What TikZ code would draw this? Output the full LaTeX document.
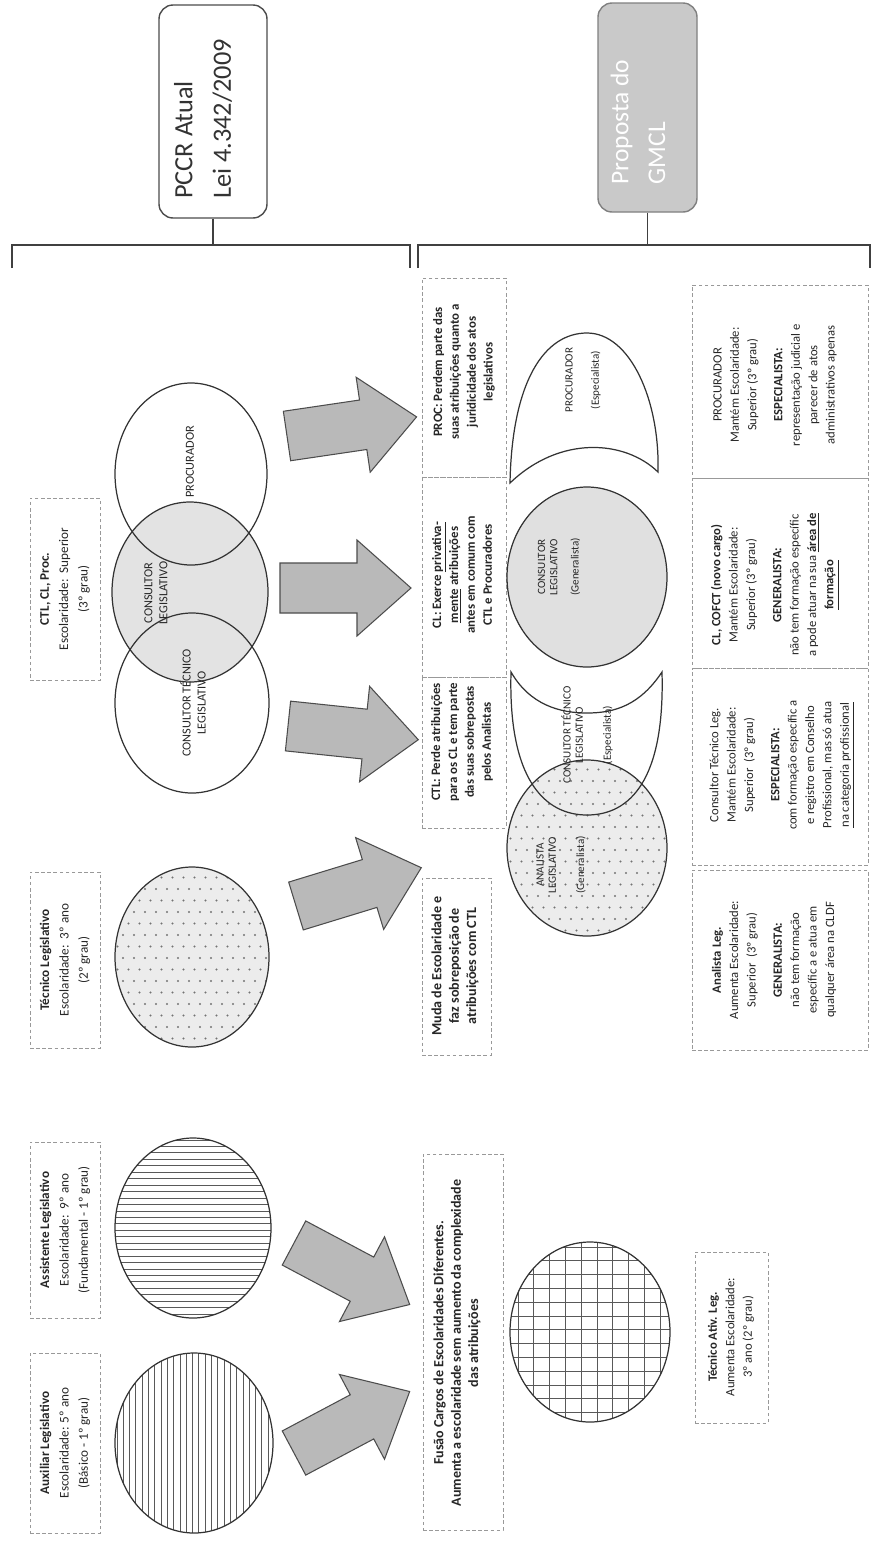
\documentclass[tikz,border=0pt]{standalone}
\usepackage{fontspec}
\setmainfont{Carlito}
\usetikzlibrary{fit}
\newcommand{\fsL}{\fontsize{7.5}{11}\selectfont}
\newcommand{\fsM}{\fontsize{8}{9.9}\selectfont\bfseries}
\newcommand{\fsMs}{\fontsize{7.3}{9.6}\selectfont\bfseries}
\newcommand{\fsR}{\fontsize{7.2}{9.9}\selectfont}
\newcommand{\fsC}{\fontsize{7}{8.5}\selectfont}
\newcommand{\fsS}{\fontsize{6.3}{7}\selectfont}
\begin{document}
\begin{tikzpicture}[x=0.02cm,y=-0.02cm,
  dbox/.style={draw=black!40, dash pattern=on 2pt off 1.5pt, line width=0.4pt, inner sep=0pt},
  rt/.style={rotate=90, align=center, inner sep=0pt, text=black!85},
  circ/.style={draw=black!80, line width=0.7pt},
  stripe/.style={draw=black!65, line width=0.5pt},
  brk/.style={draw=black!75, line width=0.9pt},
  arrowst/.style={draw=black!70, fill=gray!55, line width=0.6pt, line join=miter},
  blockarrow/.pic={\path[arrowst] (0,-25) -- (77,-25) -- (77,-48) -- (131,0) -- (77,48) -- (77,25) -- (0,25) -- cycle;}
]
\useasboundingbox (0,0) rectangle (875,1542);
\fill[white] (0,0) rectangle (875,1542);

% ---------- top boxes ----------
\node[fit={(159,5) (267,218)}, draw=black!70, line width=0.8pt, rounded corners=8pt, fill=white, inner sep=0pt] (pccr) {};
\node[rt, align=left, font=\fontsize{15}{22}\selectfont, text=black!80] (pccrT) at (203,119) {PCCR Atual\\Lei 4.342/2009};
\node[fit={(598,3) (697,212)}, draw=black!50, line width=0.8pt, rounded corners=8pt, fill=gray!42, inner sep=0pt] (gmcl) {};
\node[rt, align=left, font=\fontsize{14.5}{21}\selectfont, text=white] (gmclT) at (638,122) {Proposta do\\GMCL};

% ---------- brackets ----------
\coordinate (bl1) at (12,268); \coordinate (bl2) at (410,268); \coordinate (bl0) at (210,245);
\coordinate (br1) at (418,268); \coordinate (br2) at (870,268);
\draw[brk] (pccr.south) -- (pccr.south |- bl0);
\draw[brk] (bl1) |- (bl2 |- bl0) -- (bl2);
\draw[brk] (gmcl.south) -- (gmcl.south |- bl0);
\draw[brk] (br1) |- (br2 |- bl0) -- (br2);

% ---------- left: three overlapping circles ----------
\coordinate (cPr) at (191,474);
\coordinate (cCL) at (190,592);
\coordinate (cCT) at (192,703);
\fill[gray!22] (cCL) ellipse [x radius=78, y radius=90];
\draw[circ] (cPr) ellipse [x radius=76, y radius=91];
\draw[circ] (cCL) ellipse [x radius=78, y radius=90];
\draw[circ] (cCT) ellipse [x radius=77, y radius=90];
\node[rt, font=\fsC] (tPr) at (190,462) {PROCURADOR};
\node[rt, font=\fsC] (tCL) at (156,593) {CONSULTOR\\LEGISLATIVO};
\node[rt, font=\fsC] (tCT) at (193,703) {CONSULTOR TÉCNICO\\LEGISLATIVO};

% ---------- dotted circle (Tecnico Legislativo) ----------
\coordinate (cTe) at (192,957);
\begin{scope}
\clip (cTe) ellipse [x radius=77, y radius=90];
\fill[gray!15] (cTe) ellipse [x radius=77, y radius=90];
\foreach \j in {0,...,16} \foreach \i in {0,...,15}
  \fill[black!55] ({112+\i*11+mod(\j,2)*5.5},{866+\j*11.5}) circle [radius=0.6pt];
\end{scope}
\draw[circ] (cTe) ellipse [x radius=77, y radius=90];

% ---------- striped circles ----------
\coordinate (cAs) at (193,1228);
\begin{scope}
\clip (cAs) ellipse [x radius=78, y radius=90];
\foreach \k in {0,...,28} \draw[stripe] (110,{1140+\k*6.45}) -- (280,{1140+\k*6.45});
\end{scope}
\draw[circ] (cAs) ellipse [x radius=78, y radius=90];

\coordinate (cAu) at (194,1443);
\begin{scope}
\clip (cAu) ellipse [x radius=79, y radius=90];
\foreach \k in {0,...,26} \draw[stripe] ({117+\k*6.3},1350) -- ({117+\k*6.3},1540);
\end{scope}
\draw[circ] (cAu) ellipse [x radius=79, y radius=90];

% ---------- grid circle ----------
\coordinate (cGr) at (590,1332);
\begin{scope}
\clip (cGr) ellipse [x radius=80, y radius=90];
\foreach \k in {-1,...,10} \draw[stripe] ({518+\k*15.8},1238) -- ({518+\k*15.8},1428);
\foreach \k in {-1,...,13} \draw[stripe] (505,{1247+\k*13.8}) -- (675,{1247+\k*13.8});
\end{scope}
\draw[circ] (cGr) ellipse [x radius=80, y radius=90];

% ---------- block arrows ----------
\path (287,436) pic[rotate=8.4] {blockarrow};
\path (280,588) pic {blockarrow};
\path (288,726) pic[rotate=-6] {blockarrow};
\path (296,906) pic[rotate=17] {blockarrow};
\path (294,1243) pic[rotate=-28] {blockarrow};
\path (294,1453) pic[rotate=28] {blockarrow};

% ---------- left text boxes ----------
\node[dbox, fit={(30,498) (100,680)}] (bx1) {};
\node[rt, font=\fsL] at (bx1.center) {\textbf{CTL, CL, Proc.}\\Escolaridade:\ \ Superior\\(3º grau)};
\node[dbox, fit={(30,872) (100,1048)}] (bx2) {};
\node[rt, font=\fsL] at (bx2.center) {\textbf{Técnico Legislativo}\\Escolaridade:\ \ 3º ano\\(2º grau)};
\node[dbox, fit={(30,1142) (100,1318)}] (bx3) {};
\node[rt, font=\fsL] at (bx3.center) {\textbf{Assistente Legislativo}\\Escolaridade:\ \ 9º ano\\(Fundamental - 1º grau)};
\node[dbox, fit={(30,1353) (100,1533)}] (bx4) {};
\node[rt, font=\fsL] at (bx4.center) {\textbf{Auxiliar Legislativo}\\Escolaridade: 5º ano\\(Básico - 1º grau)};

% ---------- middle text boxes ----------
\node[dbox, fit={(422,278) (506,477)}] (m1) {};
\node[rt, font=\fsMs] at (464,372) {PROC: Perdem parte das\\suas atribuições quanto a\\juridicidade dos atos\\legislativos};
\node[dbox, fit={(422,477) (506,677)}] (m2) {};
\node[rt, font=\fsMs] at (462,575) {CL: Exerce \underline{privativa-}\\\underline{mente} atribuições\\antes em comum com\\CTL e Procuradores};
\node[dbox, fit={(422,677) (506,828)}] (m3) {};
\node[rt, font=\fsMs] at (462,742) {CTL: Perde atribuições\\para os CL e tem parte\\das suas sobrepostas\\pelos Analistas};
\node[dbox, fit={(422,878) (491,1055)}] (m4) {};
\node[rt, font=\fsM] at (455,966) {Muda de Escolaridade e\\faz sobreposição de\\atribuições com CTL};
\node[dbox, fit={(423,1154) (503,1530)}] (m5) {};
\node[rt, font=\fsM] at (457,1343) {Fusão Cargos de Escolaridades Diferentes.\\Aumenta a escolaridade sem aumento da complexidade\\das atribuições};

% ---------- right shapes ----------
\draw[circ, fill=white] (510,483) .. controls (512,380) and (545,333) .. (587,333)
  .. controls (630,333) and (660,400) .. (658,472)
  .. controls (625,440) and (560,435) .. (510,483) -- cycle;
\node[rt, font=\fsS] (sPr) at (583,380) {PROCURADOR\\[8pt](Especialista)};

\coordinate (cCL2) at (587,577);
\draw[circ, fill=gray!24] (cCL2) ellipse [x radius=80, y radius=90];
\node[rt, font=\fsS] (sCL) at (559,567) {CONSULTOR\\LEGISLATIVO\\[5pt](Generalista)};

\coordinate (cAn) at (587,848);
\begin{scope}
\clip (cAn) ellipse [x radius=80, y radius=88];
\fill[gray!15] (cAn) ellipse [x radius=80, y radius=88];
\foreach \j in {0,...,16} \foreach \i in {0,...,15}
  \fill[black!55] ({505+\i*11+mod(\j,2)*5.5},{758+\j*11.5}) circle [radius=0.6pt];
\end{scope}
\draw[circ] (cAn) ellipse [x radius=80, y radius=88];
\draw[circ] (511,672) .. controls (508,780) and (545,815) .. (587,815)
  .. controls (630,815) and (665,780) .. (662,672)
  .. controls (640,705) and (615,713) .. (587,713)
  .. controls (560,713) and (530,705) .. (511,672) -- cycle;
\node[rt, font=\fsS] (sCT) at (587,735) {CONSULTOR TÉCNICO\\LEGISLATIVO\\[9pt](Especialista)};
\node[rt, font=\fsS] (sAn) at (561,865) {ANALISTA\\LEGISLATIVO\\[9pt](Generalista)};

% ---------- right text boxes ----------
\node[dbox, fit={(692,285) (868,478)}] (r1) {};
\node[rt, font=\fsR] at (775,385) {PROCURADOR\\Mantém Escolaridade:\\Superior (3º grau)\\[5pt]\textbf{ESPECIALISTA:}\\representação judicial e\\parecer de atos\\administrativos apenas};
\node[dbox, fit={(692,478) (868,668)}] (r2) {};
\node[rt, font=\fsR] at (775,585) {\textbf{CL, COFCT (novo cargo)}\\Mantém Escolaridade:\\Superior (3º grau)\\[5pt]\textbf{GENERALISTA:}\\não tem formação específic\\a pode atuar na sua \textbf{\underline{área de}}\\\textbf{\underline{formação}}};
\node[dbox, fit={(692,668) (868,865)}] (r3) {};
\node[rt, font=\fsR] at (782,765) {Consultor Técnico Leg.\\Mantém Escolaridade:\\Superior\ \ (3º grau)\\[5pt]\textbf{ESPECIALISTA:}\\com formação específic a\\e registro em Conselho\\Profissional, mas só atua\\\underline{na categoria profissional}};
\node[dbox, fit={(692,870) (868,1050)}] (r4) {};
\node[rt, font=\fsR] at (774,960) {\textbf{Analista Leg.}\\Aumenta Escolaridade:\\Superior\ \ (3º grau)\\[5pt]\textbf{GENERALISTA:}\\não tem formação\\específic a e atua em\\qualquer área na CLDF};
\node[dbox, fit={(695,1252) (768,1423)}] (r5) {};
\node[rt, font=\fsR] at (731,1337) {\textbf{Técnico Ativ. Leg.}\\Aumenta Escolaridade:\\3º ano (2º grau)};

\end{tikzpicture}
\end{document}
